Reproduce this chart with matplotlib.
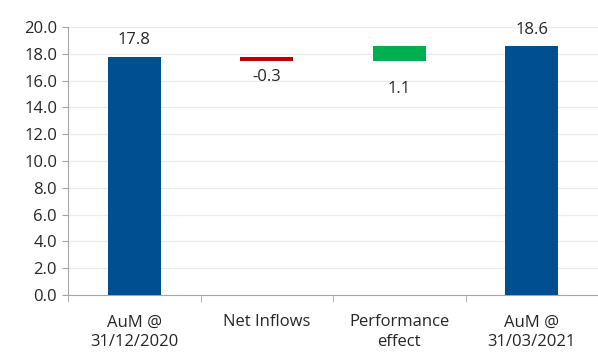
import numpy as np
import matplotlib
matplotlib.use('Agg')
import matplotlib.pyplot as plt

categories = ['AuM @\n31/12/2020', 'Net Inflows', 'Performance\neffect', 'AuM @\n31/03/2021']
values = [17.8, -0.3, 1.1, 18.6]
is_total = [True, False, False, True]
colors = ['#004F91', '#C00000', '#00B050', '#004F91']

plt.rcParams['font.family'] = ['Open Sans', 'DejaVu Sans']

fig = plt.figure(figsize=(5.98, 3.52), dpi=100)
ax = fig.add_axes([0.114, 0.162, 0.886, 0.761])

# waterfall bottoms
bottoms = []
running = 0.0
for v, tot in zip(values, is_total):
    if tot:
        bottoms.append(0.0)
        running = v
    else:
        if v < 0:
            bottoms.append(running + v)
        else:
            bottoms.append(running)
        running += v

x = np.arange(len(categories))
heights = [abs(v) for v in values]
ax.bar(x, heights, bottom=bottoms, width=0.4, color=colors, zorder=3)

fs = 12
# data labels
for i, (v, b, h, tot) in enumerate(zip(values, bottoms, heights, is_total)):
    if tot:
        ax.annotate(f'{v:.1f}', (i, b + h), xytext=(0, 6), textcoords='offset points',
                    ha='center', va='bottom', fontsize=fs, color='#262626')
    else:
        ax.annotate(f'{v:.1f}', (i, b), xytext=(0, -6 if v < 0 else -15), textcoords='offset points',
                    ha='center', va='top', fontsize=fs, color='#262626')

ax.set_xlim(-0.5, len(categories) - 0.5)
ax.set_ylim(0, 20)
ax.set_yticks(np.arange(0, 20.1, 2))
ax.set_yticklabels([f'{t:.1f}' for t in np.arange(0, 20.1, 2)], fontsize=fs, color='#262626')
ax.yaxis.grid(True, color='#EBEBEB', linewidth=0.9, zorder=0)
ax.set_axisbelow(True)

ax.set_xticks(x)
ax.set_xticklabels(categories, fontsize=fs, color='#262626', linespacing=1.3)
ax.tick_params(axis='x', which='major', length=0, pad=14)
ax.set_xticks(np.arange(-0.5, len(categories), 1), minor=True)
ax.tick_params(axis='x', which='minor', length=5, color='#A6A6A6')
ax.tick_params(axis='y', length=4, color='#A6A6A6', pad=4)

for s in ['top', 'right']:
    ax.spines[s].set_visible(False)
for s in ['left', 'bottom']:
    ax.spines[s].set_color('#A6A6A6')

fig.savefig('out.png', dpi=100)
